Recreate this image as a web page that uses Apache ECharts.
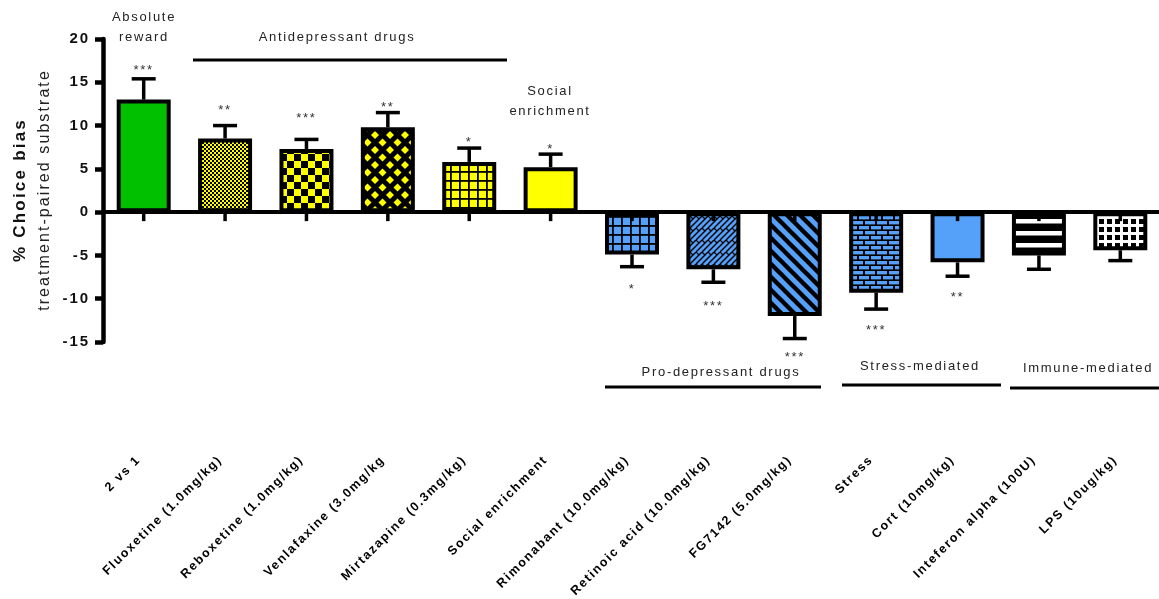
<!DOCTYPE html>
<html>
<head>
<meta charset="utf-8">
<script src="https://cdn.jsdelivr.net/npm/echarts@6/dist/echarts.min.js"></script>
<style>
  html, body { margin: 0; padding: 0; background: #fff; }
  #chart { width: 1159px; height: 599px; }
</style>
</head>
<body>
<div id="chart"></div>
<script>
// Tracked-out lettering for all canvas text: spacing grows with the font size.
(function () {
  const P = CanvasRenderingContext2D.prototype;
  if (!('letterSpacing' in P)) return;
  const track = ctx => {
    const m = /(\d+(?:\.\d+)?)px/.exec(ctx.font);
    ctx.letterSpacing = (m ? parseFloat(m[1]) * 0.13 : 1.5).toFixed(2) + 'px';
  };
  ['fillText', 'strokeText', 'measureText'].forEach(fn => {
    const orig = P[fn];
    P[fn] = function () { track(this); return orig.apply(this, arguments); };
  });
})();

// ---- data ----
const categories = [
  '2 vs 1', 'Fluoxetine (1.0mg/kg)', 'Reboxetine (1.0mg/kg)', 'Venlafaxine (3.0mg/kg',
  'Mirtazapine (0.3mg/kg)', 'Social enrichment', 'Rimonabant (10.0mg/kg)',
  'Retinoic acid (10.0mg/kg)', 'FG7142 (5.0mg/kg)', 'Stress', 'Cort (10mg/kg)',
  'Inteferon alpha (100U)', 'LPS (10ug/kg)'
];
const meanBias = [13.0, 8.5, 7.3, 9.8, 5.8, 5.2, -4.9, -6.6, -12.0, -9.3, -5.8, -5.0, -4.4];
const semBias  = [2.4, 1.5, 1.1, 1.7, 1.6, 1.5, 1.4, 1.5, 2.6, 1.9, 1.6, 1.6, 1.2];
const significance = ['***', '**', '***', '**', '*', '*', '*', '***', '***', '***', '**', '', ''];
const starLevel = [16.7, 12.1, 11.2, 12.4, 8.4, 7.6, -8.6, -10.5, -16.4, -13.3, -9.5, null, null];
const yTicks = { min: -15, max: 20, step: 5 };

// ---- fills ----
const YEL = '#FFFF00', BLU = '#55A0F8', GRN = '#00C000', BLK = '#000000', WHT = '#FFFFFF';
function tile(w, h, draw) {
  const c = document.createElement('canvas');
  c.width = w; c.height = h;
  const g = c.getContext('2d');
  draw(g, w, h);
  return { image: c, repeat: 'repeat' };
}
function each9(T, fn) { for (let a = -1; a <= 1; a++) for (let b = -1; b <= 1; b++) fn(a * T, b * T); }

const fineChecker = tile(4, 4, g => {
  g.fillStyle = YEL; g.fillRect(0, 0, 4, 4);
  g.fillStyle = BLK; g.fillRect(0, 0, 2, 2); g.fillRect(2, 2, 2, 2);
});
const bigChecker = tile(14, 14, g => {
  g.fillStyle = YEL; g.fillRect(0, 0, 14, 14);
  g.fillStyle = BLK; g.fillRect(0, 0, 7, 7); g.fillRect(7, 7, 7, 7);
});
const diamonds = tile(15, 15, g => {
  g.fillStyle = BLK; g.fillRect(0, 0, 15, 15);
  g.fillStyle = YEL;
  const d = (cx, cy, r) => { g.beginPath(); g.moveTo(cx, cy - r); g.lineTo(cx + r, cy); g.lineTo(cx, cy + r); g.lineTo(cx - r, cy); g.closePath(); g.fill(); };
  d(7.5, 7.5, 4); d(0, 0, 4); d(15, 0, 4); d(0, 15, 4); d(15, 15, 4);
});
const gridFill = (bg, T, lw) => tile(T, T, g => {
  g.fillStyle = bg; g.fillRect(0, 0, T, T);
  g.fillStyle = BLK; g.fillRect(0, 0, T, lw); g.fillRect(0, 0, lw, T);
});
const diagBricks = tile(12, 12, g => {
  g.fillStyle = BLU; g.fillRect(0, 0, 12, 12);
  g.strokeStyle = BLK; g.lineWidth = 1.4;
  for (let c = -12; c <= 36; c += 6) { g.beginPath(); g.moveTo(c, 0); g.lineTo(c - 12, 12); g.stroke(); }
  g.lineWidth = 1.2;
  each9(12, (ox, oy) => {
    g.beginPath(); g.moveTo(ox, oy); g.lineTo(ox + 3, oy + 3); g.stroke();
    g.beginPath(); g.moveTo(ox + 6, oy); g.lineTo(ox + 9, oy + 3); g.stroke();
  });
});
const stripes = tile(13, 13, g => {
  g.fillStyle = BLU; g.fillRect(0, 0, 13, 13);
  g.strokeStyle = BLK; g.lineWidth = 4.4;
  for (let o = -13; o <= 13; o += 13) { g.beginPath(); g.moveTo(o - 2, -2); g.lineTo(o + 15, 15); g.stroke(); }
});
const bricks = tile(12, 10, g => {
  g.fillStyle = BLK; g.fillRect(0, 0, 12, 10);
  g.fillStyle = BLU;
  g.fillRect(1, 1, 10, 3.4);
  g.fillRect(7, 6, 10, 3.4); g.fillRect(-5, 6, 10, 3.4);
});
const hBands = tile(4, 12, g => {
  g.fillStyle = BLK; g.fillRect(0, 0, 4, 12);
  g.fillStyle = WHT; g.fillRect(0, 3, 4, 4.5);
});
const whiteLattice = tile(8, 8, g => {
  g.fillStyle = BLK; g.fillRect(0, 0, 8, 8);
  g.fillStyle = WHT; g.fillRect(0, 0, 8, 3); g.fillRect(0, 0, 3, 8);
});
const barFills = [
  GRN, fineChecker, bigChecker, diamonds, gridFill(YEL, 9, 1.8), YEL,
  gridFill(BLU, 9, 1.8), diagBricks, stripes, bricks, BLU, hBands, whiteLattice
];

// ---- chart ----
const FONT = '"Liberation Sans", Arial, sans-serif';
const chart = echarts.init(document.getElementById('chart'), null, { renderer: 'canvas' });

const txt = (text, x, y, size, extra) => Object.assign({
  type: 'text', x, y, z: 20,
  style: { text, fill: '#222', font: size + 'px ' + FONT, align: 'center', verticalAlign: 'middle' }
}, extra || {});
const rule = (x1, x2, y) => ({
  type: 'line', z: 20, shape: { x1, y1: y, x2, y2: y }, style: { stroke: '#000', lineWidth: 3 }
});

chart.setOption({
  animation: false,
  backgroundColor: '#fff',
  grid: { left: 103, top: 39, width: 1058, height: 303, containLabel: false, outerBoundsMode: 'none' },
  xAxis: {
    type: 'category',
    data: categories,
    z: 10,
    axisLine: { onZero: true, lineStyle: { color: '#000', width: 4 } },
    axisTick: { show: false },
    axisLabel: {
      interval: 0, rotate: 45, margin: 111, padding: [0, 7, 0, 0], color: '#000',
      fontFamily: FONT, fontWeight: 'bold', fontSize: 12.5
    },
    splitLine: { show: false }
  },
  yAxis: {
    type: 'value',
    min: yTicks.min, max: yTicks.max, interval: yTicks.step,
    axisLine: { show: true, lineStyle: { color: '#000', width: 4.5 } },
    axisTick: { show: true, length: 8, lineStyle: { color: '#000', width: 4.5 } },
    axisLabel: { margin: 13, color: '#111', fontFamily: FONT, fontWeight: 'bold', fontSize: 15 },
    splitLine: { show: false }
  },
  series: [
    {
      type: 'bar',
      barWidth: 54,
      z: 2,
      itemStyle: { borderColor: '#000', borderWidth: 4 },
      data: meanBias.map((v, i) => ({ value: v, itemStyle: { color: barFills[i] } }))
    },
    {
      // one-sided SEM whiskers, pointing away from zero
      type: 'custom',
      z: 3,
      data: meanBias.map((m, i) => [i, m, m + Math.sign(m) * semBias[i]]),
      renderItem: (params, api) => {
        const a = api.coord([api.value(0), api.value(1)]);
        const b = api.coord([api.value(0), api.value(2)]);
        const hw = 12;
        return {
          type: 'group',
          children: [
            { type: 'line', shape: { x1: a[0], y1: a[1], x2: a[0], y2: b[1] }, style: { stroke: '#000', lineWidth: 3.5 } },
            { type: 'line', shape: { x1: a[0] - hw, y1: b[1], x2: a[0] + hw, y2: b[1] }, style: { stroke: '#000', lineWidth: 3.5 } }
          ]
        };
      }
    },
    {
      // category ticks hanging below the zero line, drawn over the bars
      type: 'custom',
      z: 5,
      data: categories.map((c, i) => [i, 0]),
      renderItem: (params, api) => {
        const p = api.coord([api.value(0), 0]);
        return {
          type: 'line',
          shape: { x1: p[0], y1: p[1], x2: p[0], y2: p[1] + 9 },
          style: { stroke: '#000', lineWidth: 3.5 }
        };
      }
    },
    {
      // significance stars
      type: 'custom',
      z: 4,
      data: starLevel.map((s, i) => [i, s]).filter(d => d[1] !== null),
      renderItem: (params, api) => {
        const i = api.value(0);
        const p = api.coord([i, api.value(1)]);
        return {
          type: 'text', x: p[0], y: p[1] + 3,
          style: { text: significance[i], fill: '#333', font: '13px ' + FONT, align: 'center', verticalAlign: 'middle' }
        };
      }
    }
  ],
  graphic: [
    txt('% Choice bias', 20, 190, 17, { rotation: Math.PI / 2, style: { text: '% Choice bias', fill: '#111', font: 'bold 17px ' + FONT, align: 'center', verticalAlign: 'middle' } }),
    txt('treatment-paired substrate', 45, 190, 16, { rotation: Math.PI / 2 }),
    txt('Absolute', 144, 17, 13),
    txt('reward', 144, 37, 13),
    txt('Antidepressant drugs', 337, 37, 13),
    rule(193, 507, 60),
    txt('Social', 550, 91, 13),
    txt('enrichment', 550, 111, 13),
    txt('Pro-depressant drugs', 721, 372, 13),
    rule(605, 821, 387),
    txt('Stress-mediated', 920, 366, 13),
    rule(842, 1001, 385),
    txt('Immune-mediated', 1088, 368, 13),
    rule(1010, 1162, 388)
  ]
});
</script>
</body>
</html>
